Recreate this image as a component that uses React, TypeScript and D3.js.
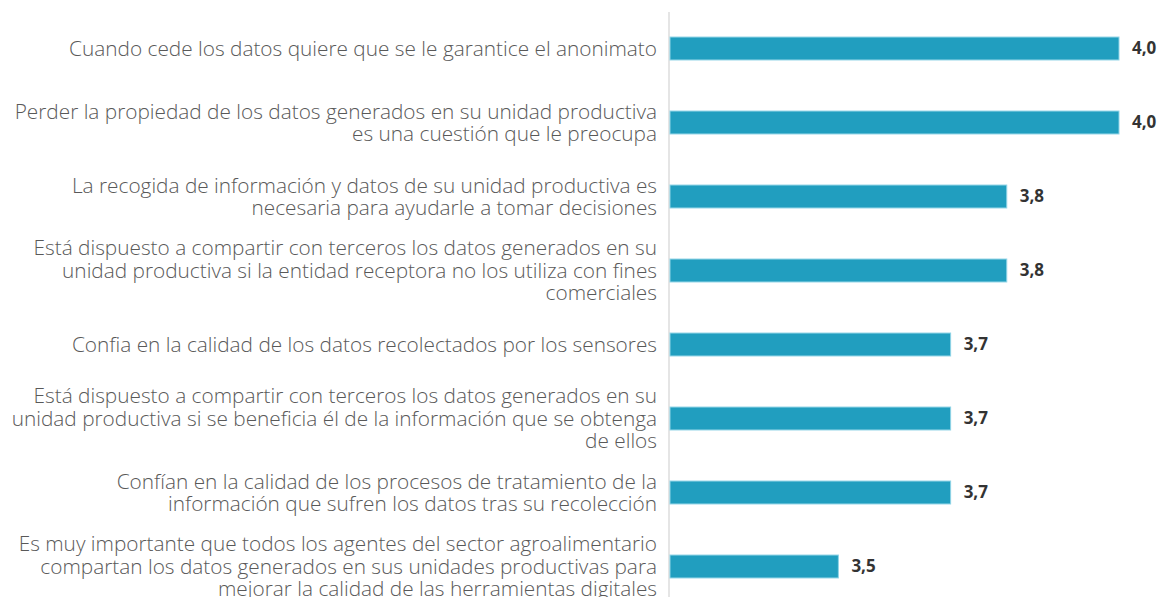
import React, { useEffect, useRef } from "react";
import * as d3 from "d3";

// each category split into the lines shown on the chart
const categories: string[][] = [
  ["Cuando cede los datos quiere que se le garantice el anonimato"],
  ["Perder la propiedad de los datos generados en su unidad productiva", "es una cuestión que le preocupa"],
  ["La recogida de información y datos de su unidad productiva es", "necesaria para ayudarle a tomar decisiones"],
  ["Está dispuesto a compartir con terceros los datos generados en su", "unidad productiva si la entidad receptora no los utiliza con fines", "comerciales"],
  ["Confia en la calidad de los datos recolectados por los sensores"],
  ["Está dispuesto a compartir con terceros los datos generados en su", "unidad productiva si se beneficia él de la información que se obtenga", "de ellos"],
  ["Confían en la calidad de los procesos de tratamiento de la", "información que sufren los datos tras su recolección"],
  ["Es muy importante que todos los agentes del sector agroalimentario", "compartan los datos generados en sus unidades productivas para", "mejorar la calidad de las herramientas digitales"],
];

const values = [4.0, 4.0, 3.8, 3.8, 3.7, 3.7, 3.7, 3.5];

const domainMin = 3.2;
const domainMax = 4.0;

export default function App() {
  const ref = useRef<SVGSVGElement>(null);

  useEffect(() => {
    if (!ref.current) return;
    const svg = d3.select(ref.current);
    svg.selectAll("*").remove();

    const left = 670;
    const right = 1119;
    const fs = 20.8;
    const lineH = 22.5;

    const idx = categories.map((_, i) => i);

    const y = d3
      .scaleBand<number>()
      .domain(idx)
      .range([11.5, 603.5])
      .paddingInner(0.69)
      .paddingOuter(0.345);

    const x = d3.scaleLinear().domain([domainMin, domainMax]).range([left, right]);

    // axis line
    svg
      .append("line")
      .attr("x1", left - 1)
      .attr("x2", left - 1)
      .attr("y1", 12)
      .attr("y2", 597)
      .attr("stroke", "#dcdcdc")
      .attr("stroke-width", 1.5);

    svg
      .append("g")
      .selectAll("rect")
      .data(values)
      .enter()
      .append("rect")
      .attr("x", x(domainMin))
      .attr("y", (d, i) => y(i)!)
      .attr("width", (d) => x(d) - x(domainMin))
      .attr("height", y.bandwidth())
      .attr("fill", "#219ebf")
      .attr("stroke", "#8fd3e6")
      .attr("stroke-width", 1);

    svg
      .append("g")
      .attr("font-family", "'Open Sans', sans-serif")
      .attr("font-weight", 700)
      .attr("font-size", 17)
      .attr("fill", "#333333")
      .selectAll("text")
      .data(values)
      .enter()
      .append("text")
      .attr("x", (d) => x(d) + 13)
      .attr("y", (d, i) => y(i)! + y.bandwidth() / 2)
      .attr("dy", "0.35em")
      .text((d) => d.toFixed(1).replace(".", ","));

    const labels = svg
      .append("g")
      .attr("font-family", "'Open Sans', sans-serif")
      .attr("font-weight", 300)
      .attr("font-size", fs)
      .attr("fill", "#595959")
      .attr("text-anchor", "end")
      .selectAll("text")
      .data(categories)
      .enter()
      .append("text")
      .attr("x", 657)
      .attr("y", (d, i) => y(i)! + y.bandwidth() / 2);

    labels
      .selectAll("tspan")
      .data((d) => d.map((line, j) => ({ line, j, n: d.length })))
      .enter()
      .append("tspan")
      .attr("x", 657)
      .attr("dy", (t) => (t.j === 0 ? `${0.35 * fs - ((t.n - 1) * lineH) / 2}px` : `${lineH}px`))
      .text((t) => t.line);
  }, []);

  return (
    <div style={{ position: "absolute", left: 0, top: 0, background: "#fff" }}>
      <svg ref={ref} width={1160} height={597} style={{ display: "block" }} />
    </div>
  );
}
